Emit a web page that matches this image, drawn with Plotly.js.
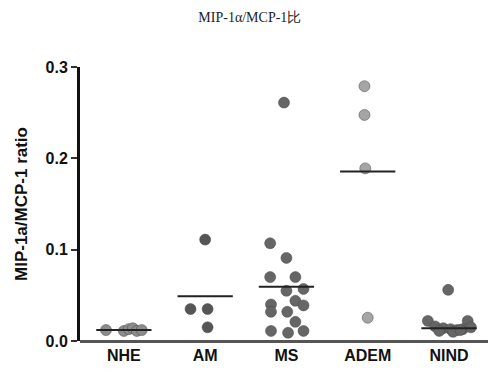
<!DOCTYPE html>
<html>
<head>
<meta charset="utf-8">
<script src="https://cdn.plot.ly/plotly-3.0.1.min.js"></script>
<style>html,body{margin:0;padding:0;background:#fff;}#chart{width:488px;height:373px;}</style>
</head>
<body>
<div id="chart"></div>
<script>
// Categories and tick labels
const categories = ["NHE", "AM", "MS", "ADEM", "NIND"];

// Individual ratio values per group
const nheValues  = [0.012, 0.011, 0.013, 0.014, 0.011, 0.012];
const amValues   = [0.111, 0.035, 0.035, 0.015];
const msValues   = [0.261, 0.107, 0.091, 0.070, 0.070, 0.055, 0.057, 0.044, 0.039, 0.040, 0.032, 0.032, 0.021, 0.011, 0.009, 0.011];
const ademValues = [0.279, 0.2475, 0.189, 0.0255];
const nindValues = [0.056, 0.022, 0.022, 0.016, 0.014, 0.013, 0.012, 0.013, 0.011, 0.010, 0.012, 0.015];

// Horizontal scatter offsets (in category units)
const nheJitter  = [-0.22, 0.0, 0.06, 0.11, 0.16, 0.22];
const amJitter   = [0.0, -0.18, 0.03, 0.03];
const msJitter   = [-0.03, -0.2, 0.0, -0.2, 0.11, 0.0, 0.21, 0.11, 0.21, -0.19, -0.19, 0.01, 0.11, -0.19, 0.02, 0.21];
const ademJitter = [-0.04, -0.04, -0.03, 0.0];
const nindJitter = [-0.01, -0.26, 0.23, -0.17, -0.07, 0.02, 0.1, 0.17, -0.12, 0.05, 0.14, 0.27];

// Group mean lines
const groupMeans = [0.012, 0.049, 0.0595, 0.1855, 0.014];

const groups = [
  {values: nheValues,  jitter: nheJitter,  color: "#8c8c8c"},
  {values: amValues,   jitter: amJitter,   color: "#555555"},
  {values: msValues,   jitter: msJitter,   color: "#666666"},
  {values: ademValues, jitter: ademJitter, color: "#a5a5a5"},
  {values: nindValues, jitter: nindJitter, color: "#666666"}
];

const traces = [];
groups.forEach((g, i) => {
  traces.push({
    type: "scatter", mode: "markers",
    x: g.jitter.map(j => i + j),
    y: g.values,
    marker: {size: 11, color: g.color, line: {width: 0.5, color: "#444"}},
    hoverinfo: "y", showlegend: false
  });
});
groupMeans.forEach((m, i) => {
  traces.push({
    type: "scatter", mode: "lines",
    x: [i - 0.34, i + 0.34],
    y: [m, m],
    line: {color: "#222", width: 2},
    hoverinfo: "skip", showlegend: false
  });
});

const boldFont = {family: "Liberation Sans, Arial, sans-serif", size: 16, color: "#111", weight: "bold"};

const layout = {
  width: 488, height: 373,
  margin: {l: 80, r: 0, t: 67, b: 32},
  paper_bgcolor: "#fff", plot_bgcolor: "#fff",
  title: {
    text: "MIP-1α/MCP-1比",
    font: {family: "Liberation Serif, serif", size: 14, color: "#222"},
    xref: "container", yref: "container",
    x: 0.512, xanchor: "center", y: 0.954, yanchor: "middle"
  },
  xaxis: {
    range: [-0.54, 4.48],
    tickvals: categories.map((c, i) => i),
    ticktext: categories,
    ticks: "", showgrid: false, zeroline: false,
    showline: false,
    ticklabelstandoff: 3,
    tickfont: boldFont,
    fixedrange: true
  },
  yaxis: {
    range: [0, 0.3],
    tickvals: [0, 0.1, 0.2, 0.3],
    ticktext: ["0.0", "0.1", "0.2", "0.3"],
    ticks: "outside", ticklen: 6, tickwidth: 2, tickcolor: "#333",
    showline: true, linecolor: "#111", linewidth: 3,
    showgrid: false, zeroline: true, zerolinecolor: "#555", zerolinewidth: 3,
    tickfont: boldFont,
    title: {text: "MIP-1a/MCP-1 ratio", standoff: 14,
      font: {family: "Liberation Sans, Arial, sans-serif", size: 17, color: "#111", weight: "bold"}},
    fixedrange: true
  },
  showlegend: false
};

Plotly.newPlot("chart", traces, layout, {displayModeBar: false, staticPlot: true});
</script>
</body>
</html>
